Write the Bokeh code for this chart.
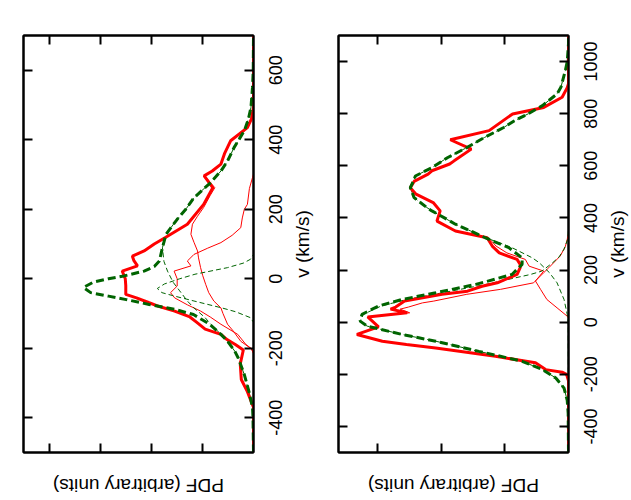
import math
from bokeh.plotting import figure
from bokeh.models import Range1d, LinearAxis, FixedTicker
from bokeh.layouts import row, column
from bokeh.core.properties import value
from bokeh.embed import file_html
from bokeh.resources import INLINE

# ---------------- Left panel (first component set) ----------------
L_obs_v = [-500, -370, -355, -325, -290, -245, -205, -190, -175, -160, -145, -125, -110, -93, -80,
           -69, -55, -45, -20, 0, 15, 22, 37, 52, 65, 80, 100, 118, 157, 214, 262, 296, 310, 330, 360,
           397, 435, 460, 493, 700]
L_obs_p = [0, 0, 0.04, 0.12, 0.24, 0.26, 0.20, 0.35, 0.52, 0.64, 0.95, 1.12, 1.25, 1.55, 1.85,
           2.05, 2.30, 2.51, 2.51, 2.52, 2.56, 2.58, 2.28, 2.35, 2.38, 2.15, 1.95, 1.74, 1.30, 0.98,
           0.80, 0.97, 0.81, 0.64, 0.57, 0.45, 0.12, 0.04, 0, 0]

L_fit_v = [-500, -400, -370, -350, -324, -276, -228, -208, -180, -160, -131, -103, -88, -74, -60,
           -50, -40, -25, -10, 0, 8, 22, 35, 51, 89, 128, 171, 200, 233, 277, 310, 339, 378, 426, 460,
           493, 550, 600, 700]
L_fit_p = [0, 0.01, 0.02, 0.05, 0.09, 0.18, 0.30, 0.37, 0.51, 0.64, 0.86, 1.18, 1.55, 2.05, 2.5,
           2.85, 3.2, 3.34, 3.15, 2.85, 2.55, 2.15, 1.95, 1.85, 1.79, 1.72, 1.5, 1.33, 1.17, 0.84,
           0.64, 0.51, 0.38, 0.18, 0.10, 0.05, 0.02, 0.005, 0]

L_obsA_v = [-500, -215, -200, -189, -160, -131, -110, -93, -75, -55, -40, -21, 0, 22, 37, 51, 70,
            88, 104, 125, 147, 175, 200, 214, 260, 291, 301, 700]
L_obsA_p = [0, 0, 0.05, 0.15, 0.31, 0.64, 0.85, 1.04, 1.30, 1.55, 1.63, 1.50, 1.50, 1.56, 1.23,
            1.30, 1.17, 0.90, 0.64, 0.42, 0.25, 0.22, 0.18, 0.12, 0.08, 0.02, 0, 0]

L_obsB_v = [-500, -215, -203, -180, -150, -131, -100, -84, -64, -40, -16, 10, 32, 60, 80, 105, 128,
            157, 180, 205, 240, 262, 296, 310, 330, 360, 397, 435, 460, 493, 700]
L_obsB_p = [0, 0, 0.03, 0.25, 0.40, 0.51, 0.60, 0.64, 0.78, 0.88, 0.94, 1.00, 1.04, 1.08, 1.10,
            1.17, 1.23, 1.20, 1.10, 0.98, 0.85, 0.76, 0.96, 0.81, 0.64, 0.57, 0.45, 0.12, 0.04, 0, 0]

L_fitA_v = [-500, -125, -112, -95, -84, -64, -50, -40, -28, -15, 0, 13, 32, 45, 56, 70, 700]
L_fitA_p = [0, 0, 0.06, 0.35, 0.62, 1.17, 1.55, 1.80, 1.89, 1.75, 1.45, 1.15, 0.51, 0.20, 0.06, 0, 0]

L_fitB_v = [-500, -400, -370, -350, -324, -276, -228, -208, -180, -160, -131, -112, -84, -64, -35,
            -10, 22, 50, 89, 128, 171, 200, 233, 277, 310, 339, 378, 426, 460, 493, 550, 600, 700]
L_fitB_p = [0, 0.01, 0.02, 0.05, 0.09, 0.18, 0.30, 0.37, 0.51, 0.64, 0.84, 0.95, 1.17, 1.30, 1.45,
            1.58, 1.69, 1.76, 1.79, 1.72, 1.5, 1.33, 1.17, 0.84, 0.64, 0.51, 0.38, 0.18, 0.10, 0.05,
            0.02, 0.005, 0]

# ---------------- Right panel (second component set) ----------------
R_obs_v = [-500, -225, -200, -192, -182, -156, -131, -99, -86, -73, -47, -18, 20, 36, 50, 58, 81,
           107, 119, 138, 151, 183, 209, 222, 241, 266, 292, 324, 350, 388, 427, 459, 491, 516, 540,
           568, 581, 607, 619, 664, 700, 735, 799, 824, 863, 900, 915, 1100]
R_obs_p = [0, 0, 0.03, 0.1, 0.36, 0.52, 1.15, 2.09, 2.55, 2.93, 3.33, 2.99, 3.16, 2.54, 2.8, 2.72,
           2.58, 1.99, 1.59, 1.36, 1.12, 0.81, 0.76, 0.76, 0.81, 1.09, 1.20, 1.28, 1.78, 2.07, 2.02,
           2.13, 2.40, 2.49, 2.43, 2.21, 2.15, 1.87, 1.80, 1.53, 1.86, 1.25, 0.88, 0.39, 0.10, 0.02,
           0, 0]

R_fit_v = [-500, -350, -300, -253, -214, -182, -150, -112, -73, -47, -15, 4, 30, 62, 87, 113, 145,
           183, 222, 247, 286, 324, 350, 376, 401, 427, 440, 478, 516, 542, 561, 593, 632, 670, 709,
           747, 773, 800, 831, 876, 901, 965, 1000, 1068, 1100]
R_fit_p = [0, 0.005, 0.02, 0.07, 0.2, 0.41, 0.73, 1.41, 2.09, 2.62, 3.17, 3.28, 3.25, 2.99, 2.62,
           2.09, 1.46, 0.89, 0.73, 0.73, 0.94, 1.31, 1.54, 1.78, 1.96, 2.15, 2.23, 2.43, 2.49, 2.44,
           2.41, 2.15, 1.9, 1.6, 1.32, 1.02, 0.85, 0.63, 0.41, 0.18, 0.12, 0.05, 0.02, 0, 0]

R_obsA_v = [-500, -225, -200, -192, -182, -156, -131, -99, -86, -73, -47, -18, 20, 36, 50, 58, 74,
            81, 107, 126, 151, 190, 209, 254, 290, 318, 340, 1100]
R_obsA_p = [0, 0, 0.03, 0.1, 0.36, 0.52, 1.15, 2.09, 2.55, 2.93, 3.33, 2.99, 3.15, 2.5, 2.65, 2.52,
            2.3, 2.12, 1.6, 1.07, 0.55, 0.39, 0.31, 0.13, 0.05, 0.02, 0, 0]

R_obsB_v = [-500, 15, 23, 55, 87, 126, 158, 196, 215, 241, 266, 292, 324, 350, 388, 427, 459, 491,
            516, 540, 568, 581, 607, 619, 664, 700, 735, 799, 824, 863, 900, 915, 1100]
R_obsB_p = [0, 0, 0.02, 0.18, 0.34, 0.44, 0.52, 0.39, 0.62, 0.68, 0.97, 1.14, 1.26, 1.78, 2.07,
            2.02, 2.13, 2.40, 2.49, 2.43, 2.21, 2.15, 1.87, 1.80, 1.53, 1.86, 1.25, 0.88, 0.39, 0.10,
            0.02, 0, 0]

R_fitA_v = [-500, -350, -300, -253, -214, -182, -150, -112, -73, -47, -15, 4, 30, 62, 87, 113, 145,
            183, 196, 228, 250, 280, 320, 360, 1100]
R_fitA_p = [0, 0.005, 0.02, 0.07, 0.2, 0.41, 0.73, 1.41, 2.09, 2.62, 3.17, 3.28, 3.23, 2.95, 2.55,
            1.98, 1.3, 0.6, 0.42, 0.25, 0.15, 0.07, 0.01, 0, 0]

R_fitB_v = [-500, 0, 30, 87, 151, 190, 228, 247, 286, 324, 350, 376, 401, 427, 440, 478, 516, 542,
            561, 593, 632, 670, 709, 747, 773, 800, 831, 876, 901, 965, 1000, 1068, 1100]
R_fitB_p = [0, 0.005, 0.02, 0.07, 0.18, 0.3, 0.46, 0.57, 0.89, 1.3, 1.54, 1.78, 1.96, 2.15, 2.23,
            2.43, 2.49, 2.44, 2.41, 2.15, 1.9, 1.6, 1.32, 1.02, 0.85, 0.63, 0.41, 0.18, 0.12, 0.05,
            0.02, 0, 0]

L_vticks = [-400, -200, 0, 200, 400, 600]
R_vticks = [-400, -200, 0, 200, 400, 600, 800, 1000]
L_pticks = [1, 2, 3, 4]
R_pticks = [1, 2, 3]

V_LABEL = "v (km/s)"
P_LABEL = "PDF (arbitrary units)"

FONT = "Liberation Sans"
TICK_FS = "18px"
TITLE_FS = "19px"
RED = "#ff0000"
GREEN = "#006400"

FRAME_W = 230
FRAME_H = 417
BORDER_TOP = 35
BORDER_BOTTOM = 2
TOP_H = BORDER_TOP + FRAME_H + BORDER_BOTTOM   # 454: panels, frame 35..452
TITLE_H = 500 - TOP_H                          # strip holding the PDF titles
SIDE_B = 2                                     # thin border beside each frame
LABEL_W1 = 81    # strip between the two panels (tick labels + title of panel 1)
LABEL_W2 = 61    # strip right of panel 2


def style_axis(ax):
    ax.major_tick_line_color = None
    ax.minor_tick_in = 9
    ax.minor_tick_out = 0
    ax.minor_tick_line_width = 2
    ax.minor_tick_line_color = "black"
    ax.axis_line_width = 2
    ax.axis_line_color = "black"


def bare_figure(width, height, x_range, y_range, bl, br, bt, bb):
    f = figure(width=width, height=height, output_backend="svg", toolbar_location=None,
               x_range=x_range, y_range=y_range, x_axis_location=None, y_axis_location=None,
               min_border_left=bl, min_border_right=br, min_border_top=bt, min_border_bottom=bb)
    f.grid.grid_line_color = None
    f.outline_line_color = None
    f.background_fill_color = "white"
    f.border_fill_color = "white"
    return f


def make_panel(border_left, vrange, prange, vticks, pticks, curves):
    p = bare_figure(border_left + FRAME_W + SIDE_B, TOP_H,
                    Range1d(prange[0], prange[1]), Range1d(vrange[0], vrange[1]),
                    border_left, SIDE_B, BORDER_TOP, BORDER_BOTTOM)
    p.outline_line_color = "black"
    p.outline_line_width = 2
    # inward tick marks on all four sides (gnuplot style), labels drawn beside the frame
    for side, ticks in (("right", vticks), ("left", vticks), ("below", pticks), ("above", pticks)):
        ax = LinearAxis(ticker=FixedTicker(ticks=[], minor_ticks=list(ticks)))
        style_axis(ax)
        p.add_layout(ax, side)

    (oa_v, oa_p), (ob_v, ob_p), (fa_v, fa_p), (fb_v, fb_p), (o_v, o_p), (f_v, f_p) = curves
    p.line(oa_p, oa_v, line_color=RED, line_width=1)
    p.line(ob_p, ob_v, line_color=RED, line_width=1)
    p.line(fa_p, fa_v, line_color=GREEN, line_width=1, line_dash="5 3")
    p.line(fb_p, fb_v, line_color=GREEN, line_width=1, line_dash="5 3")
    p.line(o_p, o_v, line_color=RED, line_width=3)
    p.line(f_p, f_v, line_color=GREEN, line_width=3, line_dash="8 4")
    return p


def make_v_labels(panel, width, vticks, tick_x, title_x):
    """Strip right of a panel sharing its v range: upward-reading tick labels and axis title."""
    s = bare_figure(width, TOP_H, Range1d(0, width), panel.y_range, 0, 0, BORDER_TOP, BORDER_BOTTOM)
    s.text(x=[tick_x] * len(vticks), y=vticks, text=[str(t) for t in vticks], angle=math.pi / 2,
           text_font=value(FONT), text_font_size=value(TICK_FS), text_color="black",
           text_align="center", text_baseline="middle")
    vmid = (panel.y_range.start + panel.y_range.end) / 2.0
    s.text(x=[title_x], y=[vmid], text=[V_LABEL], angle=math.pi / 2,
           text_font=value(FONT), text_font_size=value(TITLE_FS), text_color="black",
           text_align="center", text_baseline="middle")
    return s


def make_pdf_title(panel, width, border_left, border_right):
    """Strip under a panel sharing its PDF range, carrying the upside-down PDF axis title."""
    t = bare_figure(width, TITLE_H, panel.x_range, Range1d(0, TITLE_H),
                    border_left, border_right, 0, 0)
    xmid = (panel.x_range.start + panel.x_range.end) / 2.0
    # title centre 33 px below the frame bottom
    t.text(x=[xmid], y=[TITLE_H - 31], text=[P_LABEL], angle=math.pi,
           text_font=value(FONT), text_font_size=value(TITLE_FS), text_color="black",
           text_align="center", text_baseline="middle")
    return t


p1 = make_panel(23, (-500, 700), (4.52, 0), L_vticks, L_pticks,
                [(L_obsA_v, L_obsA_p), (L_obsB_v, L_obsB_p), (L_fitA_v, L_fitA_p),
                 (L_fitB_v, L_fitB_p), (L_obs_v, L_obs_p), (L_fit_v, L_fit_p)])
s1 = make_v_labels(p1, LABEL_W1, L_vticks, 20, 47)
p2 = make_panel(SIDE_B, (-500, 1100), (3.62, 0), R_vticks, R_pticks,
                [(R_obsA_v, R_obsA_p), (R_obsB_v, R_obsB_p), (R_fitA_v, R_fitA_p),
                 (R_fitB_v, R_fitB_p), (R_obs_v, R_obs_p), (R_fit_v, R_fit_p)])
s2 = make_v_labels(p2, LABEL_W2, R_vticks, 20, 47)

w1 = p1.width + s1.width
w2 = p2.width + s2.width
t1 = make_pdf_title(p1, w1, 23, w1 - 23 - FRAME_W)
t2 = make_pdf_title(p2, w2, SIDE_B, w2 - SIDE_B - FRAME_W)

layout = column(row(p1, s1, p2, s2), row(t1, t2))
open("out.html", "w").write(file_html(layout, INLINE))
